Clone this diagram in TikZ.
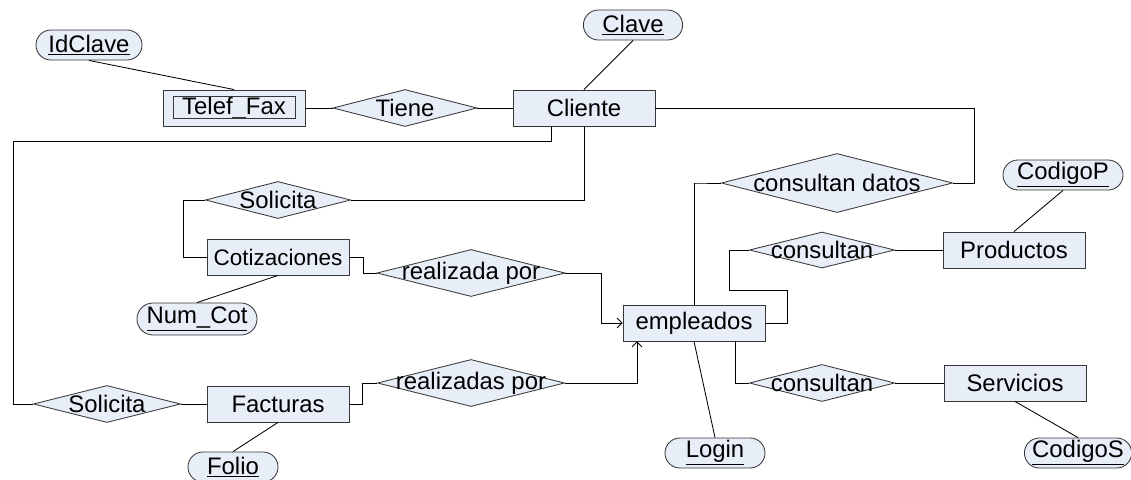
\documentclass[tikz,border=0pt]{standalone}
\usepackage{fontspec}
\setmainfont{Liberation Sans}
\usetikzlibrary{shapes.geometric,shapes.misc,calc,arrows.meta}
\definecolor{erfill}{RGB}{232,238,248}
\definecolor{erline}{RGB}{55,55,55}

\begin{document}
\begin{tikzpicture}[x=0.025cm,y=-0.025cm,line width=0.6pt,
    >={Straight Barb[length=3.5pt,width=7pt]},
    font=\fontsize{17}{20}\selectfont,
    entidad/.style={draw=erline,fill=erfill,minimum width=3.55cm,minimum height=0.9cm,inner sep=0pt},
    atributo/.style={rounded rectangle,draw=erline,fill=erfill,minimum height=0.75cm,inner sep=0pt},
    relacion/.style={diamond,draw=erline,fill=erfill,inner sep=0pt,
        execute at begin node={\hbox to 0pt\bgroup\hss},
        execute at end node={\hss\egroup}}]
    \useasboundingbox (0,0) rectangle (1131,480);
    % entidades, atributos y relaciones
    \node[atributo,minimum width=2.65cm] (idclave) at (89,45) {\underline{IdClave}};
    \node[entidad] (telfax) at (234,108) {Telef\_Fax};
    \draw[erline] ($(telfax.north west)+(11,7)$) rectangle ($(telfax.south east)+(-10,-8)$);
    \node[relacion,minimum width=3.6cm,minimum height=0.925cm] (tiene) at (405,108) {Tiene};
    \node[entidad] (cliente) at (584,108) {Cliente};
    \node[atributo,minimum width=2.48cm] (clave) at (633,25) {\underline{Clave}};
    \node[relacion,minimum width=3.63cm,minimum height=0.925cm] (solicita1) at (278,200) {Solicita};
    \node[entidad] (cotiz) at (278,257) {\fontsize{16}{19}\selectfont Cotizaciones};
    \node[atributo,minimum width=3cm,minimum height=0.8cm] (numcot) at (197,319) {\underline{Num\_Cot}};
    \node[relacion,minimum width=4.7cm,minimum height=1.175cm] (realizada) at (471,273) {realizada por};
    \node[relacion,minimum width=3.68cm,minimum height=0.925cm] (solicita2) at (107,404) {Solicita};
    \node[entidad] (facturas) at (278,404) {Facturas};
    \node[atributo,minimum width=2.25cm] (folio) at (233,467) {\underline{Folio}};
    \node[relacion,minimum width=4.68cm,minimum height=1.175cm] (realizadas) at (471,383) {realizadas por};
    \node[entidad] (empleados) at (694,323) {empleados};
    \node[atributo,minimum width=2.5cm] (login) at (715,453) {\underline{Login}};
    \node[relacion,minimum width=5.78cm,minimum height=1.475cm] (datos) at (837,183) {consultan datos};
    \node[relacion,minimum width=3.63cm,minimum height=0.9cm] (consprod) at (822,250) {consultan};
    \node[entidad] (productos) at (1014,250) {Productos};
    \node[atributo,minimum width=3cm] (codigop) at (1063,175) {\underline{CodigoP}};
    \node[relacion,minimum width=3.63cm,minimum height=0.925cm] (consserv) at (822,383) {consultan};
    \node[entidad] (servicios) at (1015,383) {Servicios};
    \node[atributo,minimum width=2.68cm] (codigos) at (1078,453) {\underline{CodigoS}};
    \coordinate (lft) at (13,141);
    % lineas
    \draw (idclave.south) -- (telfax.north);
    \draw (telfax.east) -- (tiene.west);
    \draw (tiene.east) -- (cliente.west);
    \draw (clave.south) -- (cliente.north);
    \draw (cliente.east) -| ($(datos.east)+(21,0)$) -- (datos.east);
    \draw (datos.west) -- ++(-27,0) -| (empleados.north);
    \draw ($(cliente.south)+(-33,0)$) |- (lft) |- (solicita2.west);
    \draw (cliente.south) |- (solicita1.east);
    \draw (solicita1.west) -- ++(-22,0) |- (cotiz.west);
    \draw (cotiz.east) -- ++(14,0) |- (realizada.west);
    \draw[->] (realizada.east) -- ++(36,0) |- (empleados.west);
    \draw (cotiz.south) -- (numcot.north);
    \draw (solicita2.east) -- (facturas.west);
    \draw (facturas.east) -- ++(13,0) |- (realizadas.west);
    \draw[->] (realizadas.east) -| ($(empleados.south)+(-57,0)$);
    \draw (facturas.south) -- (folio.north);
    \draw (empleados.south) -- (login.north);
    \draw (empleados.east) -- ++(22,0) -- ++(0,-33) -| ($(consprod.west)+(-20,0)$) -- (consprod.west);
    \draw (consprod.east) -- (productos.west);
    \draw (productos.north) -- (codigop.south);
    \draw ($(empleados.south)+(41,0)$) |- (consserv.west);
    \draw (consserv.east) -- (servicios.west);
    \draw (servicios.south) -- (codigos.north);
\end{tikzpicture}
\end{document}
